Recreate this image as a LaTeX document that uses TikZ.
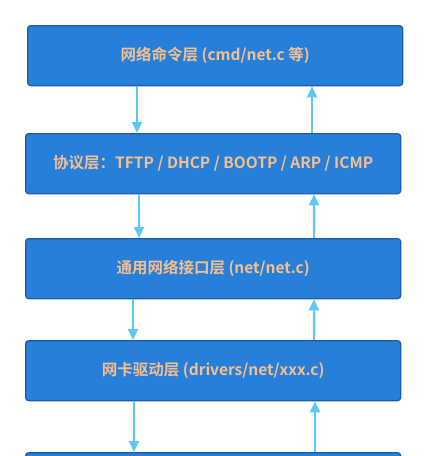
\documentclass[tikz,border=0pt]{standalone}
\usepackage{fontspec}
\setmainfont{Noto Sans CJK SC}[BoldFont={Noto Sans CJK SC Bold}]
\usetikzlibrary{arrows.meta}
\definecolor{boxfill}{HTML}{2680D9}
\definecolor{boxline}{HTML}{1A5EAE}
\definecolor{txt}{HTML}{F7BE8E}
\definecolor{arr}{HTML}{5CC8F5}
\tikzset{
  layer/.style={draw=boxline, line width=1.3pt, fill=boxfill, rounded corners=3pt,
    minimum width=375pt, minimum height=60pt, inner sep=0pt, anchor=north west,
    text=txt, font=\bfseries\fontsize{15.5pt}{18pt}\selectfont},
  flow/.style={draw=arr, line width=2pt, -{Triangle[length=11pt,width=10pt]}}
}
\begin{document}
\begin{tikzpicture}[x=1pt,y=-1pt]
\useasboundingbox (0,0) rectangle (427,456);
\clip (0,0) rectangle (427,456);
\node[layer] (b1) at (27,25) {网络命令层 (cmd/net.c 等)};
\node[layer] (b2) at (25,133) {协议层：TFTP / DHCP / BOOTP / ARP / ICMP};
\node[layer] (b3) at (25,238) {通用网络接口层 (net/net.c)};
\node[layer] (b4) at (25,340) {网卡驱动层 (drivers/net/xxx.c)};
\node[layer] (b5) at (25,452) {};
\draw[flow] (b1.south west) ++(110,0) coordinate (d1) (d1) -- (d1 |- b2.north);
\draw[flow] (b2.north west) ++(287,0) coordinate (u1) (u1) -- (u1 |- b1.south);
\draw[flow] (b2.south west) ++(114,0) coordinate (d2) (d2) -- (d2 |- b3.north);
\draw[flow] (b3.north west) ++(289,0) coordinate (u2) (u2) -- (u2 |- b2.south);
\draw[flow] (b3.south west) ++(108,0) coordinate (d3) (d3) -- (d3 |- b4.north);
\draw[flow] (b4.north west) ++(289,0) coordinate (u3) (u3) -- (u3 |- b3.south);
\draw[flow] (b4.south west) ++(109,0) coordinate (d4) (d4) -- (d4 |- b5.north);
\draw[flow] (b5.north west) ++(290,0) coordinate (u4) (u4) -- (u4 |- b4.south);
\end{tikzpicture}
\end{document}
